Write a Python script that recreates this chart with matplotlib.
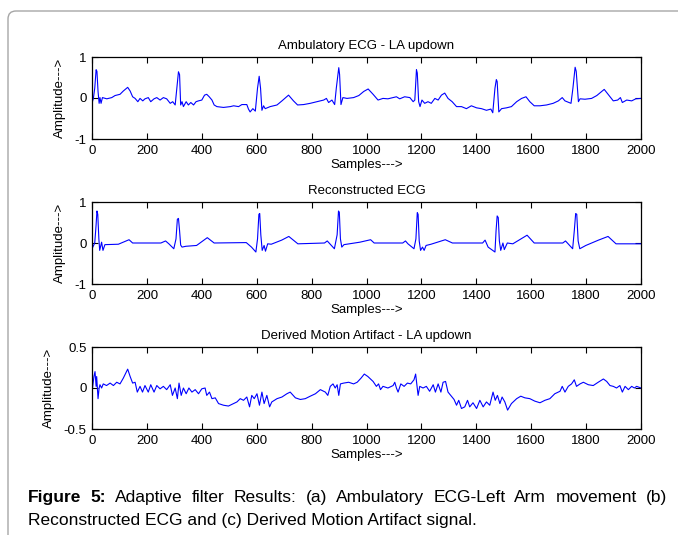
import matplotlib
matplotlib.use("Agg")
import matplotlib.pyplot as plt
from matplotlib.patches import FancyBboxPatch
from matplotlib.transforms import IdentityTransform

plt.rcParams['font.family'] = ['Liberation Sans', 'DejaVu Sans']
plt.rcParams['axes.unicode_minus'] = False

# Signal ECG ambulatoire (échantillons, amplitude)
ecg_x = [0, 5, 10, 15, 18, 22, 26, 29, 33, 38, 54, 72, 84, 102, 114, 130, 139, 148, 157, 167,
         175, 185, 193, 205, 214, 226, 236, 248, 260, 272, 285, 294, 303, 309, 315, 319, 323, 328,
         333, 343, 351, 360, 370, 379, 388, 400, 410, 418, 427, 437, 445, 455, 479, 504, 516, 534,
         546, 564, 570, 576, 586, 595, 603, 609, 614, 619, 625, 631, 649, 674, 692, 716, 734, 749,
         771, 795, 820, 844, 854, 862, 874, 884, 890, 899, 902, 907, 914, 929, 953, 972, 990, 1006,
         1024, 1042, 1060, 1078, 1097, 1109, 1121, 1139, 1158, 1170, 1176, 1182, 1185, 1190, 1195,
         1202, 1212, 1224, 1236, 1249, 1261, 1273, 1285, 1297, 1312, 1328, 1346, 1364, 1382, 1401,
         1419, 1437, 1453, 1460, 1468, 1473, 1476, 1482, 1492, 1510, 1528, 1547, 1565, 1581, 1595,
         1611, 1632, 1656, 1680, 1699, 1713, 1723, 1745, 1752, 1760, 1764, 1772, 1778, 1796, 1820,
         1839, 1866, 1887, 1899, 1915, 1925, 1932, 1948, 1966, 1981, 2000]
ecg_y = [-0.13, -0.01, 0.24, 0.69, 0.65, 0.16, -0.13, 0.01, -0.13, 0.01, -0.02, 0.01, 0.06, 0.09,
         0.17, 0.26, 0.17, 0.03, -0.01, -0.09, -0.01, -0.07, -0.02, 0.01, -0.09, -0.02, 0.01, -0.05,
         0.01, -0.02, -0.13, -0.09, -0.17, 0.24, 0.64, 0.57, -0.17, -0.09, -0.21, -0.09, -0.17,
         -0.11, -0.17, -0.09, -0.07, -0.05, 0.07, 0.09, 0.03, -0.05, -0.17, -0.21, -0.23, -0.21,
         -0.19, -0.21, -0.16, -0.16, -0.27, -0.34, -0.26, -0.32, 0.24, 0.53, 0.24, -0.30, -0.19,
         -0.26, -0.21, -0.17, -0.07, 0.07, -0.07, -0.17, -0.16, -0.13, -0.09, -0.05, -0.01, -0.11,
         -0.05, -0.16, 0.24, 0.74, 0.57, -0.16, 0.01, -0.01, 0.01, 0.06, 0.16, 0.22,
         0.09, -0.05, -0.01, -0.02, 0.01, 0.03, -0.02, 0.03, 0.01, -0.09, -0.05, 0.69, 0.61, -0.09,
         -0.21, -0.05, -0.13, -0.09, -0.13, -0.01, -0.05, 0.07, 0.12, -0.01, -0.09, -0.21, -0.21,
         -0.26, -0.19, -0.24, -0.26, -0.30, -0.27, -0.36, 0.24, 0.45, 0.40, -0.34, -0.26, -0.24,
         -0.21, -0.09, -0.01, 0.03, -0.09, -0.19, -0.19, -0.17, -0.13, -0.07, 0.01, -0.07, -0.13,
         0.24, 0.75, 0.65, -0.09, -0.02, -0.03, -0.01, 0.06, 0.21, 0.03, -0.07, -0.05, 0.01, -0.11,
         -0.05, -0.07, -0.02, -0.01]

# ECG reconstruit
rec_x = [3, 10, 15, 18, 21, 25, 28, 35, 40, 47, 96, 135, 148, 251, 268, 280, 298, 306, 311, 315,
         319, 323, 328, 342, 381, 420, 445, 562, 581, 597, 603, 608, 611, 615, 620, 627, 632, 640,
         653, 691, 717, 750, 847, 857, 883, 893, 898, 901, 905, 910, 918, 976, 1015, 1028, 1132,
         1142, 1151, 1173, 1180, 1185, 1188, 1192, 1197, 1204, 1210, 1217, 1235, 1287, 1313, 1423,
         1432, 1443, 1468, 1472, 1476, 1480, 1484, 1489, 1497, 1502, 1513, 1533, 1585, 1611, 1715,
         1725, 1751, 1757, 1762, 1766, 1771, 1777, 1799, 1845, 1880, 1909, 2000]
rec_y = [-0.10, 0.0, 0.45, 0.78, 0.70, 0.10, -0.18, 0.02, -0.18, -0.04, -0.03, 0.08, 0.0, 0.0,
         0.05, -0.02, -0.14, 0.10, 0.58, 0.60, 0.30, -0.05, -0.10, -0.08, -0.06, 0.13, 0.0, 0.01,
         -0.10, -0.22, 0.10, 0.70, 0.72, 0.20, -0.18, -0.06, -0.20, -0.02, -0.03, 0.07, 0.16, -0.02,
         0.0, 0.05, -0.14, 0.20, 0.78, 0.75, 0.10, -0.10, -0.04, 0.02, 0.08, 0.0, 0.0, 0.05, -0.02,
         -0.14, 0.10, 0.74, 0.70, 0.05, -0.18, -0.10, -0.18, -0.06, -0.03, 0.08, 0.0, 0.0, 0.07,
         -0.10, -0.22, 0.30, 0.66, 0.62, 0.05, -0.18, 0.0, -0.16, 0.0, -0.02, 0.19, 0.0, 0.0, 0.05,
         -0.14, 0.30, 0.72, 0.70, 0.05, -0.14, -0.06, 0.07, 0.16, -0.02, -0.02]

# Artefact de mouvement dérivé
art_x = [2, 7, 11, 15, 17, 22, 26, 29, 35, 41, 53, 66, 78, 90, 102, 114, 130, 139, 148, 157, 165,
         175, 184, 193, 205, 214, 226, 236, 248, 260, 272, 285, 293, 303, 311, 317, 325, 333, 343,
         353, 364, 376, 388, 400, 412, 418, 428, 437, 449, 461, 479, 497, 516, 528, 540, 552, 564,
         574, 582, 591, 601, 610, 619, 627, 637, 647, 655, 674, 692, 710, 722, 741, 759, 777, 795,
         814, 832, 850, 859, 868, 878, 886, 893, 899, 905, 917, 935, 953, 966, 980, 992, 1005, 1024,
         1036, 1044, 1051, 1060, 1078, 1097, 1103, 1109, 1115, 1125, 1137, 1149, 1161, 1173, 1179,
         1188, 1194, 1206, 1218, 1230, 1243, 1251, 1261, 1271, 1279, 1288, 1297, 1307, 1319, 1328,
         1336, 1346, 1358, 1368, 1376, 1388, 1401, 1413, 1425, 1437, 1449, 1461, 1469, 1477, 1486,
         1494, 1504, 1514, 1528, 1547, 1562, 1577, 1595, 1613, 1632, 1650, 1668, 1686, 1705, 1713,
         1723, 1735, 1747, 1757, 1765, 1778, 1790, 1808, 1826, 1844, 1863, 1875, 1887, 1899, 1911,
         1923, 1932, 1942, 1954, 1966, 1976, 1984, 2000]
art_y = [0.0, 0.14, 0.20, 0.02, 0.14, -0.13, 0.0, 0.04, 0.0, 0.05, 0.03, 0.06, 0.03, 0.07, 0.05,
         0.12, 0.23, 0.14, 0.06, 0.07, -0.05, 0.02, -0.05, 0.03, -0.05, 0.04, -0.05, 0.03, -0.01,
         0.02, -0.02, 0.04, -0.09, 0.0, -0.13, 0.06, -0.09, 0.0, -0.07, 0.0, -0.05, -0.02, -0.07,
         -0.01, 0.0, -0.09, -0.05, -0.13, -0.12, -0.19, -0.21, -0.22, -0.19, -0.17, -0.13, -0.15,
         -0.11, -0.23, -0.09, -0.13, -0.07, -0.21, -0.05, -0.19, -0.09, -0.23, -0.17, -0.13, -0.11,
         -0.07, -0.05, -0.12, -0.14, -0.13, -0.10, -0.07, -0.02, -0.05, -0.09, 0.02, 0.05, 0.0,
         0.04, -0.09, 0.05, 0.06, 0.07, 0.05, 0.07, 0.12, 0.17, 0.14, 0.08, 0.02, 0.05, -0.02,
         0.02, 0.0, 0.03, 0.07, 0.0, -0.05, 0.05, 0.02, 0.06, 0.05, 0.10, 0.17, -0.09, 0.02, 0.0,
         0.02, -0.04, 0.04, -0.05, 0.05, -0.05, 0.07, 0.08, -0.05, -0.09, -0.14, -0.21, -0.15,
         -0.25, -0.23, -0.15, -0.23, -0.18, -0.25, -0.15, -0.23, -0.17, -0.21, -0.05, -0.15, -0.09,
         -0.19, -0.11, -0.17, -0.27, -0.19, -0.13, -0.10, -0.12, -0.13, -0.16, -0.18, -0.15, -0.13,
         -0.07, -0.04, 0.02, -0.05, 0.02, 0.05, 0.10, 0.02, 0.05, 0.07, 0.04, 0.03, 0.07, 0.11,
         0.08, 0.03, 0.02, 0.0, 0.03, -0.05, 0.02, -0.02, 0.02, 0.0, 0.02, 0.0]

titres = ["Ambulatory ECG - LA updown", "Reconstructed ECG", "Derived Motion Artifact - LA updown"]
x_ticks = [0, 200, 400, 600, 800, 1000, 1200, 1400, 1600, 1800, 2000]
y_ticks_ecg = [-1, 0, 1]
y_labels_ecg = ["-1", "0", "1"]
y_ticks_art = [-0.5, 0, 0.5]
y_labels_art = ["-0.5", "0", "0.5"]

legende_1 = "Adaptive filter Results: (a) Ambulatory ECG-Left Arm movement (b)"
legende_2 = "Reconstructed ECG and (c) Derived Motion Artifact signal."

W, H = 678, 535
fig = plt.figure(figsize=(W / 100, H / 100), dpi=100)

# Cadre arrondi gris autour de la figure (coordonnées en pixels)
cadre = FancyBboxPatch((8, -30), 720, H - 11 + 30, boxstyle="round,pad=0,rounding_size=8",
                       transform=IdentityTransform(), fill=False, edgecolor='#a6a6a6', lw=1.0)
fig.add_artist(cadre)


def tracer(haut, bas, x, y, titre, yticks, ylabels, ylim):
    ax = fig.add_axes([92 / W, 1 - bas / H, 549 / W, (bas - haut) / H])
    ax.plot(x, y, color='#0000ff', lw=0.8)
    ax.set_xlim(0, 2000)
    ax.set_ylim(*ylim)
    ax.set_xticks(x_ticks)
    ax.set_xticklabels([str(t) for t in x_ticks])
    ax.set_yticks(yticks)
    ax.set_yticklabels(ylabels)
    ax.tick_params(direction='in', top=True, right=True, length=4, width=0.8,
                   labelsize=9.5, pad=4)
    for sp in ax.spines.values():
        sp.set_linewidth(0.9)
    ax.set_title(titre, fontsize=9.5, pad=6)
    ax.set_xlabel("Samples--->", fontsize=9.5, labelpad=2)
    ax.set_ylabel("Amplitude--->", fontsize=9.5, labelpad=6)
    return ax


tracer(57, 139, ecg_x, ecg_y, titres[0], y_ticks_ecg, y_labels_ecg, (-1, 1))
tracer(202, 284, rec_x, rec_y, titres[1], y_ticks_ecg, y_labels_ecg, (-1, 1))
tracer(347, 429, art_x, art_y, titres[2], y_ticks_art, y_labels_art, (-0.5, 0.5))

# Légende de la figure : première ligne justifiée (28 px -> 667 px)
taille = 12.5
renderer = fig.canvas.get_renderer()
mots = [("Figure", 'bold'), ("5:", 'bold')] + [(m, 'normal') for m in legende_1.split()]
objets = []
largeur = 0
for mot, poids in mots:
    t = fig.text(0, 1 - 502 / H, mot, fontsize=taille, fontweight=poids, va='baseline')
    largeur += t.get_window_extent(renderer).width
    objets.append(t)
ecart = (667 - 28 - largeur) / (len(mots) - 1)
x = 28
for t in objets:
    t.set_x(x / W)
    x += t.get_window_extent(renderer).width + ecart
fig.text(28 / W, 1 - 525 / H, legende_2, fontsize=taille, va='baseline')

fig.savefig("out.png", dpi=100)
